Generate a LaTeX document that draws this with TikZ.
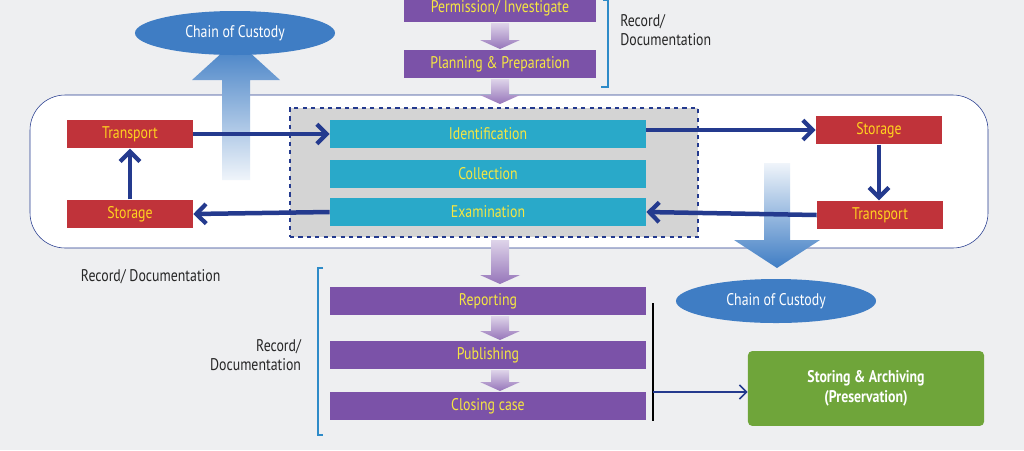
\documentclass[tikz,border=0pt]{standalone}
\usepackage{fontspec}
\setmainfont{PT Sans}[FakeStretch=0.82]
\usetikzlibrary{arrows.meta,shapes.geometric}
\definecolor{bg}{HTML}{EEEFF1}
\definecolor{pur}{HTML}{7B52A8}
\definecolor{ylw}{HTML}{F5E642}
\definecolor{cyn}{HTML}{29A9C9}
\definecolor{rd}{HTML}{C0333A}
\definecolor{rtx}{HTML}{FFD21F}
\definecolor{nav}{HTML}{243A8E}
\definecolor{bl}{HTML}{3F7DC4}
\definecolor{brk}{HTML}{2E8BC8}
\definecolor{grn}{HTML}{6FA53A}
\begin{document}
\begin{tikzpicture}[x=0.025cm,y=-0.025cm,
  pbox/.style={fill=pur,text=ylw,font=\large},
  cbox/.style={fill=cyn,text=ylw,font=\large},
  rbox/.style={fill=rd,text=rtx,font=\large},
  nar/.style={nav,line width=3.2pt,-{Straight Barb[length=7pt,width=14pt,line width=3pt]}},
  ell/.style={ellipse,fill=bl,text=white,font=\large,minimum width=5cm,minimum height=1.1cm},
  lbl/.style={font=\large,text=black!85,align=left}]
\fill[bg] (0,0) rectangle (1024,450);
\useasboundingbox (0,0) rectangle (1024,450);
% small purple arrows
\newcommand{\parr}[3]{\shade[top color=pur!25,bottom color=pur!80] (#1-9,#2) -- (#1+9,#2) -- (#1+9,#3-9) -- (#1+20,#3-9) -- (#1,#3) -- (#1-20,#3-9) -- (#1-9,#3-9) -- cycle;}
% top
\node[pbox,minimum width=4.8cm,minimum height=0.7cm] (perm) at (500,8) {Permission/ Investigate};
\node[pbox,minimum width=4.8cm,minimum height=0.7cm] (plan) at (500,64) {Planning \& Preparation};
\parr{500}{23}{49}
\draw[brk,line width=1pt] (603,0) -- (608,0) -- (608,87) -- (601,87);
\node[lbl,anchor=north west,inner sep=0] (rd1) at (620,14) {Record/\\Documentation};
% main box
\draw[nav,fill=white,rounded corners=25] (30,95) rectangle (988,248);
\parr{500}{79}{104}
\node[draw=nav,dashed,line width=1pt,fill=black!17,minimum width=10.2cm,minimum height=3.22cm] (dash) at (494,172.5) {};
\node[cbox,minimum width=7.9cm,minimum height=0.72cm] (ident) at (488,134) {Identification};
\node[cbox,minimum width=7.9cm,minimum height=0.72cm] (coll) at (488,174) {Collection};
\node[cbox,minimum width=7.9cm,minimum height=0.72cm] (exam) at (488,212) {Examination};
\node[rbox,minimum width=3.15cm,minimum height=0.72cm] (tl) at (130,134) {Transport};
\node[rbox,minimum width=3.15cm,minimum height=0.72cm] (sl) at (130,214) {Storage};
\node[rbox,minimum width=3.15cm,minimum height=0.72cm] (sr) at (879,130) {Storage};
\node[rbox,minimum width=3.15cm,minimum height=0.72cm] (tr) at (880,215) {Transport};
% chain of custody arrows
\shade[top color=bl,bottom color=bl!8] (222,180) -- (222,80) -- (192,80) -- (236,40) -- (280,80) -- (250,80) -- (250,180) -- cycle;
\node[ell] (coc1) at (235,33) {Chain of Custody};
\shade[top color=bl!8,bottom color=bl] (764,163) -- (790,163) -- (790,240) -- (820,240) -- (777,268) -- (734,240) -- (764,240) -- cycle;
\node[ell] (coc2) at (776,301) {Chain of Custody};
\draw[nar] (tl.east) -- (ident.west);
\draw[nar] (ident.east|-sr) -- (sr.west);
\draw[nar] (sr.south) -- (sr.south|-tr.north);
\draw[nar] (tr.west) -- (exam.east);
\draw[nar] (exam.west) -- (sl.east);
\draw[nar] (sl.north) -- (tl.south);
% bottom
\parr{500}{240}{284}
\node[lbl,anchor=west] (rd2) at (76,277) {Record/ Documentation};
\node[pbox,minimum width=7.9cm,minimum height=0.72cm] (rep) at (488,301) {Reporting};
\node[pbox,minimum width=7.9cm,minimum height=0.72cm] (pub) at (488,355) {Publishing};
\node[pbox,minimum width=7.9cm,minimum height=0.72cm] (clo) at (488,406) {Closing case};
\parr{500}{316}{340}
\parr{500}{370}{391}
\draw[brk,line width=1pt] (323,268) -- (318,268) -- (318,435) -- (323,435);
\node[lbl,align=right,anchor=east] (rd3) at (306,355) {Record/\\Documentation};
\draw[black,line width=1.2pt] (653,303) coordinate (vt) -- (653,421) coordinate (vb);
\coordinate (vm) at (653,392);
\node[fill=grn,rounded corners=3,text=white,font=\large\bfseries,align=center,minimum width=5.9cm,minimum height=1.87cm] (arch) at (866,388.5) {Storing \& Archiving\\(Preservation)};
\draw[nav,line width=1.2pt,-{Straight Barb[length=5pt,width=10pt]}] (vm) -- (vm-|arch.west);
\end{tikzpicture}
\end{document}
